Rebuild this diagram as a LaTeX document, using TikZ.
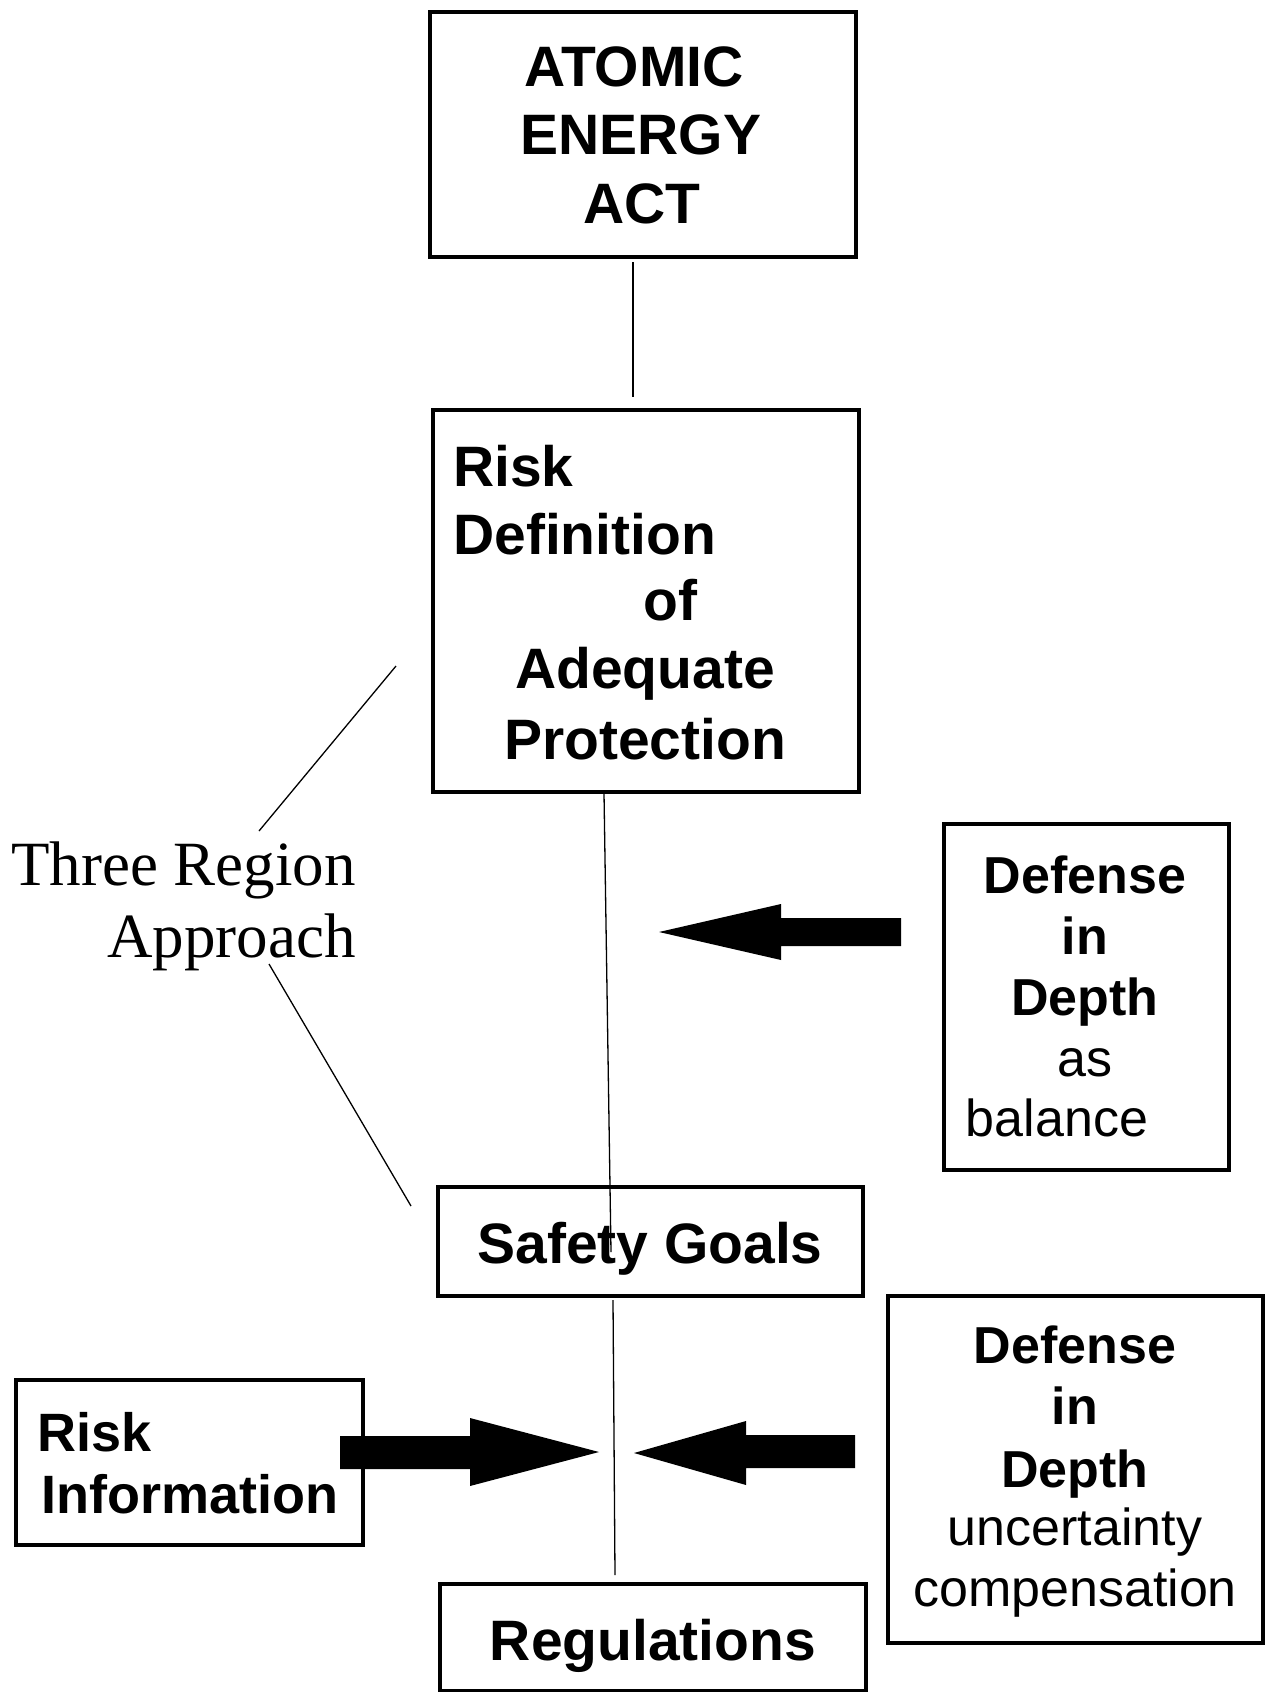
\documentclass[tikz,border=0pt]{standalone}
\usepackage{fontspec}
\setmainfont{Liberation Sans}
\newfontfamily\timesf{Liberation Serif}
\begin{document}
\begin{tikzpicture}[x=1pt,y=-1pt,
  box/.style={draw, line width=3.8pt, inner sep=0pt, anchor=north west},
  big/.style={font=\fontsize{57}{68}\selectfont\bfseries, inner sep=0pt, anchor=base},
  bigw/.style={big, anchor=base west},
  mid/.style={font=\fontsize{52}{61}\selectfont\bfseries, inner sep=0pt, anchor=base},
  midw/.style={font=\fontsize{54}{62}\selectfont\bfseries, inner sep=0pt, anchor=base west},
  midr/.style={font=\fontsize{52}{61}\selectfont, inner sep=0pt, anchor=base},
  serif/.style={font=\timesf\fontsize{63}{72}\selectfont, inner sep=0pt, anchor=base east},
  thin/.style={line width=1.3pt},
  fat/.style={fill=black}]
\useasboundingbox (0,0) rectangle (1268,1692);
% boxes
\node[box, minimum width=426pt, minimum height=245pt] (atomic) at (428,10) {};
\node[box, minimum width=426pt, minimum height=382pt] (risk) at (431,408) {};
\node[box, minimum width=285pt, minimum height=346pt] (defA) at (942,822) {};
\node[box, minimum width=425pt, minimum height=109pt] (safety) at (436,1185) {};
\node[box, minimum width=347pt, minimum height=165pt] (rinfo) at (14,1378) {};
\node[box, minimum width=375pt, minimum height=347pt] (defB) at (886,1294) {};
\node[box, minimum width=426pt, minimum height=107pt] (regs) at (438,1582) {};
% texts
\node[big] (atomic1) at (634,86) {ATOMIC};
\node[big] (atomic2) at (641,154) {ENERGY};
\node[big] (atomic3) at (642,223) {ACT};
\node[bigw] (risk1) at (453,486) {Risk};
\node[bigw] (risk2) at (453,554) {Definition};
\node[bigw] (risk3) at (643,620) {of};
\node[bigw] (risk4) at (515,688) {Adequate};
\node[bigw] (risk5) at (504,759) {Protection};
\node[mid] (defA1) at (1085,893) {Defense};
\node[mid] (defA2) at (1085,954) {in};
\node[mid] (defA3) at (1085,1015) {Depth};
\node[midr] (defA4) at (1085,1076) {as};
\node[midr] (defA5) at (1057,1136) {balance};
\node[big] (safety1) at (650,1263) {Safety Goals};
\node[midw] (rinfo1) at (37,1451) {Risk};
\node[midw] (rinfo2) at (41,1513) {Information};
\node[mid] (defB1) at (1075,1363) {Defense};
\node[mid] (defB2) at (1075,1424) {in};
\node[mid] (defB3) at (1075,1487) {Depth};
\node[midr] (defB4) at (1075,1545) {uncertainty};
\node[midr] (defB5) at (1075,1606) {compensation};
\node[big] (regs1) at (653,1660) {Regulations};
\node[serif] (three1) at (356,885) {Three Region};
\node[serif] (three2) at (356,957) {Approach};
% connector end points
\coordinate (a1) at (633,262);
\coordinate (a2) at (633,397);
\coordinate (b1) at (604,793);
\coordinate (b2) at (611,1252);
\coordinate (c1) at (613,1300);
\coordinate (c2) at (615,1575);
\coordinate (d1) at (396,666);
\coordinate (d2) at (259,831);
\coordinate (e1) at (269,964);
\coordinate (e2) at (411,1206);
\draw[thin] (a1) -- (a2);
\draw[thin] (b1) -- (b2);
\draw[thin] (c1) -- (c2);
\draw[thin] (d1) -- (d2);
\draw[thin] (e1) -- (e2);
% fat arrows
\fill[fat] (901,918) -- (781,918) -- (781,904) -- (659,932) -- (781,960) -- (781,946) -- (901,946) -- cycle;
\fill[fat] (340,1436) -- (470,1436) -- (470,1418) -- (599,1452) -- (470,1486) -- (470,1469) -- (340,1469) -- cycle;
\fill[fat] (855,1435) -- (746,1435) -- (746,1421) -- (634,1453) -- (746,1485) -- (746,1468) -- (855,1468) -- cycle;
\end{tikzpicture}
\end{document}
